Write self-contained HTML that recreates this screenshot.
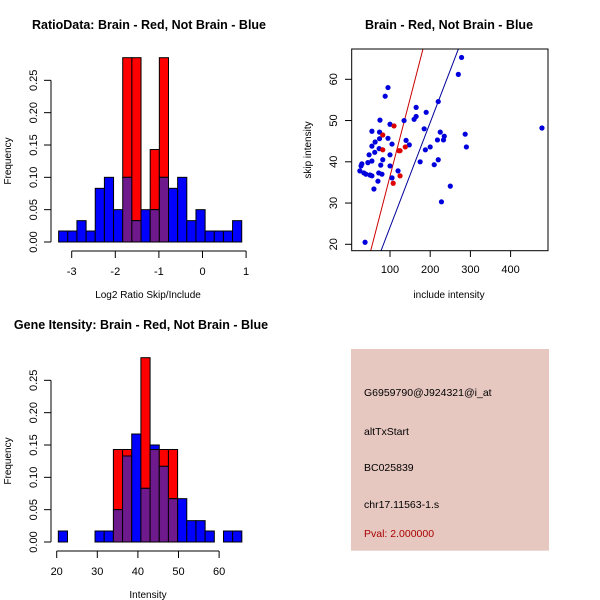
<!DOCTYPE html>
<html><head><meta charset="utf-8"><style>
body{margin:0;background:#fff}
svg{display:block;font-family:"Liberation Sans",sans-serif}
</style></head><body>
<svg id="c" width="600" height="600" xmlns="http://www.w3.org/2000/svg">
<rect width="600" height="600" fill="#fff"/>
</svg>
<script>
// ---- data ----
const ratioBinStart = -3.3, ratioBinWidth = 0.21;
const ratioBlue = [0.017,0.017,0.033,0.017,0.083,0.10,0.05,0.10,0.033,0.05,0.05,0.10,0.083,0.10,0.033,0.05,0.017,0.017,0.017,0.033];
const ratioRed  = [0,0,0,0,0,0,0,0.285,0.285,0,0.143,0.285,0,0,0,0,0,0,0,0];
const ratioXTicks = [-3,-2,-1,0,1];
const freqTicks = ["0.00","0.05","0.10","0.15","0.20","0.25"];
const geneBinStart = 20.4, geneBinWidth = 2.26;
const geneBlue = [0.017,0,0,0,0.017,0.017,0.05,0.133,0.167,0.083,0.15,0.117,0.067,0.067,0.033,0.033,0.017,0,0.017,0.017];
const geneRed  = [0,0,0,0,0,0,0.143,0.143,0,0.285,0.143,0.143,0.143,0,0,0,0,0,0,0];
const geneXTicks = [20,30,40,50,60];
const blueX = [25,28,30,35,40,45,48,50,55,55,55,55,60,62,63,70,72,73,74,74,75,77,80,82,88,95,95,100,100,100,105,105,120,135,140,148,160,165,165,175,185,188,190,200,210,218,220,220,225,228,233,235,250,270,278,287,290,478,38];
const blueY = [37.8,39,39.5,37.3,37,39.8,41.7,36.8,36.6,40.2,43.8,47.4,33.4,42.3,44.8,35.3,37.3,43.2,45.6,47.2,50.1,39.2,37,40.5,55.9,58,45.7,49.1,41.7,39,44.3,36.1,37.8,50,45.2,44.1,50.3,51,53.2,40,48,42.9,52,43.6,39.3,45.3,54.6,40.5,47.2,30.3,45.3,46.2,34.1,61.2,65.3,46.7,43.6,48.2,20.5];
const redX = [82,82,110,108,122,125,125,138];
const redY = [46.5,42.9,48.7,34.8,42.7,42.7,36.6,43.6];
const redLine = [0.376,-1.1];
const blueLine = [0.254,-1.27];
const scXTicks = [100,200,300,400];
const scYTicks = [20,30,40,50,60];

const NS="http://www.w3.org/2000/svg", svg=document.getElementById('c');
function mk(t,a,p){const e=document.createElementNS(NS,t);for(const k in a)e.setAttribute(k,a[k]);(p||svg).appendChild(e);return e;}
function txt(s,x,y,o){const e=mk('text',Object.assign({x:x,y:y,'font-size':11,'text-anchor':'middle',fill:'#000'},o||{}));e.textContent=s;return e;}

function hist(g, x0px, y0, perUnitX, xData0, binStart, binW, blue, red, xticks, xlab, title, titleX){
  const ys=v=>y0-v*646.7;
  const xs=v=>x0px+(v-xData0)*perUnitX;
  for(let i=0;i<blue.length;i++){
    const xa=xs(binStart+i*binW), xb=xs(binStart+(i+1)*binW);
    const b=blue[i], r=red[i], lo=Math.min(b,r), hi=Math.max(b,r);
    if(hi>lo){const e=mk('rect',{x:xa,y:ys(hi),width:xb-xa,height:ys(lo)-ys(hi),fill:r>b?'#ff0000':'#0000ff',stroke:'#000','stroke-width':1},g);
      
      }
    if(lo>0){const e=mk('rect',{x:xa,y:ys(lo),width:xb-xa,height:ys(0)-ys(lo),fill:'#6e1a8c',stroke:'#000','stroke-width':1},g);
      
      }
  }
  mk('line',{x1:51,x2:51,y1:ys(0),y2:ys(0.25),stroke:'#000'},g);
  freqTicks.forEach((t,i)=>{const y=ys(i*0.05);mk('line',{x1:44,x2:51,y1:y,y2:y,stroke:'#000'},g);
    txt(t,0,0,{transform:`translate(37,${y}) rotate(-90)`,'font-size':11},g);});
  txt('Frequency',0,0,{transform:`translate(11,${y0-81}) rotate(-90)`,'font-size':10});
  const ay=y0+9;
  mk('line',{x1:xs(xticks[0]),x2:xs(xticks[xticks.length-1]),y1:ay,y2:ay,stroke:'#000'},g);
  xticks.forEach(t=>{const x=xs(t);mk('line',{x1:x,x2:x,y1:ay,y2:ay+7,stroke:'#000'},g);txt(String(t),x,ay+24,{},g);});
  txt(xlab,148,y0+56,{'font-size':10});
  txt(title,titleX,y0-213,{'font-size':12.5,'font-weight':'bold'});
}
const g1=mk('g',{});
hist(g1,71.7,242,43.6,-3,ratioBinStart,ratioBinWidth,ratioBlue,ratioRed,ratioXTicks,'Log2 Ratio Skip/Include','RatioData: Brain - Red, Not Brain - Blue',149);
const g2=mk('g',{});
hist(g2,56.7,542,4.06,20,geneBinStart,geneBinWidth,geneBlue,geneRed,geneXTicks,'Intensity','Gene Itensity: Brain - Red, Not Brain - Blue',141);

const sx=v=>349.8+v*0.402, sy=v=>244.3-(v-20)*4.125;
const g3=mk('g',{});
const defs=mk('clipPath',{id:'clp'});mk('rect',{x:352,y:49,width:196,height:202},defs);
[[redLine,'#cc0000'],[blueLine,'#000099']].forEach(([l,c])=>{const e=mk('line',{x1:sx(0),y1:sy(l[1]),x2:sx(300),y2:sy(l[0]*300+l[1]),stroke:c,'clip-path':'url(#clp)'},g3);
  
  });
blueX.forEach((x,i)=>{const e=mk('circle',{cx:sx(x),cy:sy(blueY[i]),r:2.6,fill:'#0000dd'},g3);
  
  });
redX.forEach((x,i)=>{const e=mk('circle',{cx:sx(x),cy:sy(redY[i]),r:2.6,fill:'#dd0000'},g3);
  
  });
mk('rect',{x:351.7,y:49,width:196.3,height:201.7,fill:'none',stroke:'#000'},g3);
scXTicks.forEach(t=>{const x=sx(t);mk('line',{x1:x,x2:x,y1:250.7,y2:257,stroke:'#000'},g3);txt(t,x,273,{},g3);});
scYTicks.forEach(t=>{const y=sy(t);mk('line',{x1:345,x2:351.7,y1:y,y2:y,stroke:'#000'},g3);txt(t,0,0,{transform:`translate(337,${y}) rotate(-90)`},g3);});
txt('include intensity',449,298,{'font-size':10});
txt('skip intensity',0,0,{transform:'translate(311,150) rotate(-90)','font-size':10});
txt('Brain - Red, Not Brain - Blue',449,29,{'font-size':12.5,'font-weight':'bold'});

const g4=mk('g',{});
mk('rect',{x:351,y:349,width:198,height:201.7,fill:'#e6c8c0'},g4);
[['G6959790@J924321@i_at',396,'#000'],['altTxStart',435,'#000'],['BC025839',471,'#000'],['chr17.11563-1.s',508,'#000'],['Pval: 2.000000',537,'#aa0000']].forEach(([s,y,c])=>{
  const e=txt(s,364,y,{'text-anchor':'start','font-size':10.5,fill:c},g4);
  
  });
</script>
</body></html>
